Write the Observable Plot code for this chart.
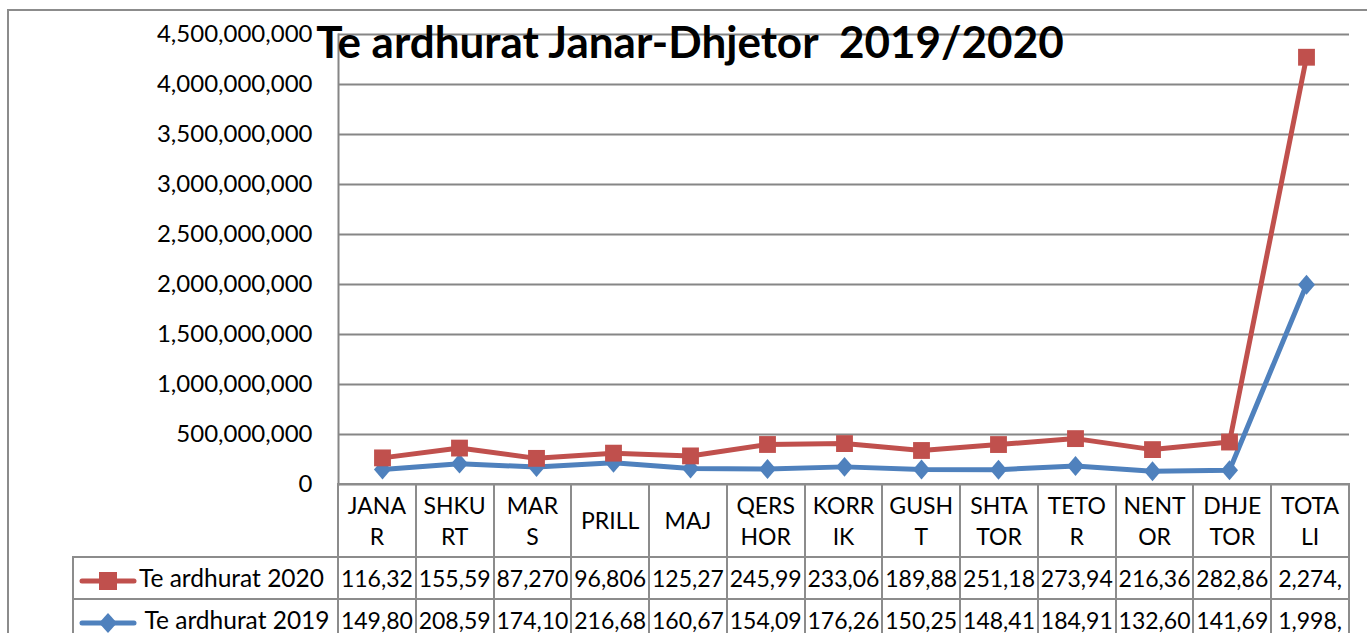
<!DOCTYPE html>
<html><head><meta charset="utf-8">
<script src="https://cdn.jsdelivr.net/npm/d3@7"></script>
<script src="https://cdn.jsdelivr.net/npm/@observablehq/plot@0.6"></script>
<style>
html,body{margin:0;padding:0;background:#fff;}
#wrap{position:relative;width:1367px;height:633px;overflow:hidden;font-family:Lato,"Open Sans",sans-serif;color:#000;}
#border{position:absolute;left:7px;top:9px;width:1400px;height:700px;border:2px solid #8c8c8c;box-sizing:border-box;}
#chart{position:absolute;left:0;top:0;}
#title{position:absolute;left:8px;width:1364px;top:17px;text-align:center;font-weight:bold;font-size:44px;white-space:pre;line-height:1.1;}
#tbl{position:absolute;left:72px;top:483px;border-collapse:collapse;table-layout:fixed;font-size:23px;}
#tbl td{border:2px solid #8c8c8c;padding:0;text-align:center;vertical-align:middle;white-space:pre-line;overflow:hidden;}
#tbl td.blank{border:none;}
#tbl tr.hdr td{height:71px;line-height:31px;}
#tbl tr.row td{height:40px;line-height:40px;}
#tbl td.leg{text-align:left;padding-left:5px;white-space:nowrap;font-size:24.5px;}
#tbl td.leg svg{vertical-align:middle;margin-right:2px;}
</style></head>
<body>
<div id="wrap">
  <div id="border"></div>
  <div id="chart"></div>
  <div id="title"></div>
  <table id="tbl"></table>
</div>
<script>
const titleText = "Te ardhurat Janar-Dhjetor  2019/2020";
const categories = ["JANAR","SHKURT","MARS","PRILL","MAJ","QERSHOR","KORRIK","GUSHT","SHTATOR","TETOR","NENTOR","DHJETOR","TOTALI"];
const headerLabels = ["JANA\nR","SHKU\nRT","MAR\nS","PRILL","MAJ","QERS\nHOR","KORR\nIK","GUSH\nT","SHTA\nTOR","TETO\nR","NENT\nOR","DHJE\nTOR","TOTA\nLI"];
const seriesNames = ["Te ardhurat 2019","Te ardhurat 2020"];
const values2019 = [149800000,208590000,174100000,216680000,160670000,154090000,176260000,150250000,148410000,184910000,132600000,141690000,1998050000];
const values2020 = [116320000,155590000,87270000,96806000,125270000,245990000,233060000,189880000,251180000,273940000,216360000,282860000,2274530000];
const yTicks = [0,500000000,1000000000,1500000000,2000000000,2500000000,3000000000,3500000000,4000000000,4500000000];
const seriesColors = ["#4F81BD","#C0504D"];

const rows = [];
categories.forEach((c,i)=>rows.push({month:c, series:seriesNames[0], value:values2019[i]}));
categories.forEach((c,i)=>rows.push({month:c, series:seriesNames[1], value:values2020[i]}));

const diamond = {draw(ctx, size){const r=Math.sqrt(size/Math.PI); const h=r*1.05, w=r*0.9; ctx.moveTo(0,-h); ctx.lineTo(w,0); ctx.lineTo(0,h); ctx.lineTo(-w,0); ctx.closePath();}};

const font = "Lato, 'Open Sans', sans-serif";
const chart = Plot.plot({
  width:1367, height:633,
  marginLeft:338, marginRight:18, marginTop:34, marginBottom:149,
  style:{fontFamily:font, background:"transparent", color:"#000"},
  x:{type:"point", domain:categories, padding:0.5, axis:null},
  y:{domain:[0,4500000000], axis:null},
  color:{domain:seriesNames, range:seriesColors},
  symbol:{domain:seriesNames, range:[diamond,"square"]},
  marks:[
    Plot.gridY(yTicks,{stroke:"#868686", strokeOpacity:1, strokeWidth:2}),
    Plot.frame({anchor:"left", stroke:"#868686", strokeWidth:2}),
    Plot.axisY(yTicks,{label:null, tickSize:0, tickPadding:26, tickFormat:d3.format(","), fontSize:24, fill:"#000"}),
    Plot.lineY(rows, Plot.stackY2({x:"month", y:"value", z:"series", stroke:"series", strokeWidth:5, strokeLinejoin:"round"})),
    Plot.dot(rows, Plot.stackY2({x:"month", y:"value", z:"series", fill:"series", symbol:"series", r:9.5, stroke:"none"}))
  ]
});
document.getElementById("chart").appendChild(chart);
document.getElementById("title").textContent = titleText;

// data table aligned with the x scale
const xs = chart.scale("x");
const step = (xs.range[1]-xs.range[0]) / xs.domain.length;
const left0 = xs.range[0];
const tbl = document.getElementById("tbl");
const legW = left0 - 73;
let html = `<colgroup><col style="width:${legW}px">` + categories.map(()=>`<col style="width:${step}px">`).join("") + `</colgroup>`;
html += `<tr class="hdr"><td class="blank"></td>` + headerLabels.map(h=>`<td>${h}</td>`).join("") + `</tr>`;
const fmt = v => d3.format(",")(v).slice(0,6);
function legendSvg(i){
  const c = seriesColors[i];
  const m = i===1 ? `<rect x="20" y="3" width="18" height="18" fill="${c}"/>` : `<path d="M29,2 L38,12 L29,22 L20,12 Z" fill="${c}"/>`;
  return `<svg width="58" height="24"><line x1="3" y1="12" x2="55" y2="12" stroke="${c}" stroke-width="5" stroke-linecap="round"/>${m}</svg>`;
}
[[1,values2020],[0,values2019]].forEach(([i,vals])=>{
  html += `<tr class="row"><td class="leg">${legendSvg(i)}${i===0?" ":""}${seriesNames[i]}</td>` + vals.map(v=>`<td>${fmt(v)}</td>`).join("") + `</tr>`;
});
tbl.innerHTML = html;
tbl.style.width = (legW + step*categories.length) + "px";
</script>
</body></html>
